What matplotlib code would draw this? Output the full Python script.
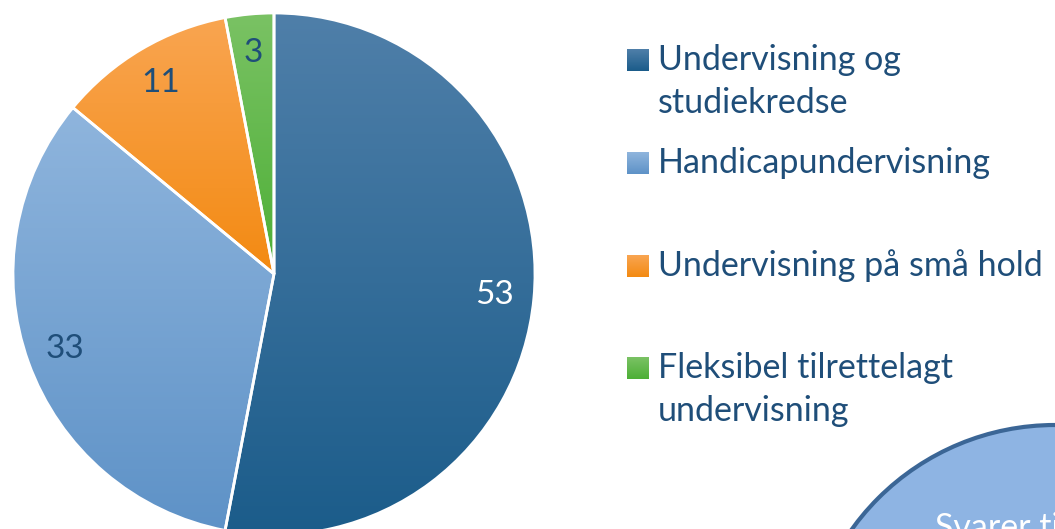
import numpy as np
import matplotlib
matplotlib.use("Agg")
import matplotlib.pyplot as plt
from matplotlib.patches import Ellipse, Rectangle

categories = ["Undervisning og\nstudiekredse", "Handicapundervisning",
              "Undervisning på små hold", "Fleksibel tilrettelagt\nundervisning"]
values = [53, 33, 11, 3]
# gradient top / bottom colour per slice
top_colors = ["#4F7FA9", "#8FB5DD", "#F9A551", "#7AC264"]
bottom_colors = ["#1B5C8A", "#5E92C7", "#F38A12", "#4DAF36"]
label_colors = ["white", "#1F4E79", "#1F4E79", "#1F4E79"]
callout_text = "Svarer til"

W, H = 1055, 529
plt.rcParams['font.family'] = ['Lato', 'DejaVu Sans']
fig = plt.figure(figsize=(W / 100, H / 100), dpi=100)

# pie axes: centre (274, 274) px, radius 261 px
cx, cy, r = 274, 274, 261
ax = fig.add_axes([(cx - r) / W, (H - cy - r) / H, 2 * r / W, 2 * r / H])
wedges, _ = ax.pie(values, startangle=90, counterclock=False, radius=1,
                   wedgeprops=dict(edgecolor="white", linewidth=2))
ax.set_xlim(-1, 1)
ax.set_ylim(-1, 1)
ax.set_aspect("equal")
ax.axis("off")


def mix(c1, c2, n):
    a = np.array(matplotlib.colors.to_rgb(c1))
    b = np.array(matplotlib.colors.to_rgb(c2))
    t = np.linspace(0, 1, n)[:, None]
    return (a * (1 - t) + b * t)[:, None, :]


total = sum(values)
angle = 90.0
for w, v, ct, cb, lc in zip(wedges, values, top_colors, bottom_colors, label_colors):
    w.set_facecolor("none")
    verts = w.get_path().vertices
    y0, y1 = verts[:, 1].min(), verts[:, 1].max()
    x0, x1 = verts[:, 0].min(), verts[:, 0].max()
    img = np.repeat(mix(ct, cb, 200), 2, axis=1)
    im = ax.imshow(img, extent=[x0, x1, y0, y1], origin="upper",
                   aspect="auto", zorder=0.5)
    im.set_clip_path(w)
    w.set_zorder(1)
    mid = np.deg2rad(angle - 360 * v / total / 2)
    angle -= 360 * v / total
    ax.text(0.85 * np.cos(mid), 0.85 * np.sin(mid), str(v), color=lc,
            fontsize=24, ha="center", va="center", zorder=3)

# overlay axes in pixel coordinates for legend and callout
ov = fig.add_axes([0, 0, 1, 1], zorder=2)
ov.set_xlim(0, W)
ov.set_ylim(H, 0)
ov.axis("off")

row_y = [60, 163, 266, 368]
for cat, ct, cb, yy in zip(categories, top_colors, bottom_colors, row_y):
    sq = Rectangle((627, yy - 11), 22, 22, facecolor="none", edgecolor="none")
    ov.add_patch(sq)
    im = ov.imshow(np.repeat(mix(ct, cb, 50), 2, axis=1),
                   extent=[627, 649, yy + 11, yy - 11], aspect="auto")
    im.set_clip_path(sq)
    for k, line in enumerate(cat.split("\n")):
        ov.text(658, yy + 43 * k, line, color="#1F4E79", fontsize=24.5,
                ha="left", va="center")

ov.add_patch(Ellipse((1055, 675), 500, 500, facecolor="#8EB4E3",
                     edgecolor="#3B6696", linewidth=3))
ov.text(935, 538, callout_text, color="white", fontsize=24.5,
        ha="left", va="baseline", clip_on=True)
ov.set_xlim(0, W)
ov.set_ylim(H, 0)

fig.savefig("out.png", dpi=100)
